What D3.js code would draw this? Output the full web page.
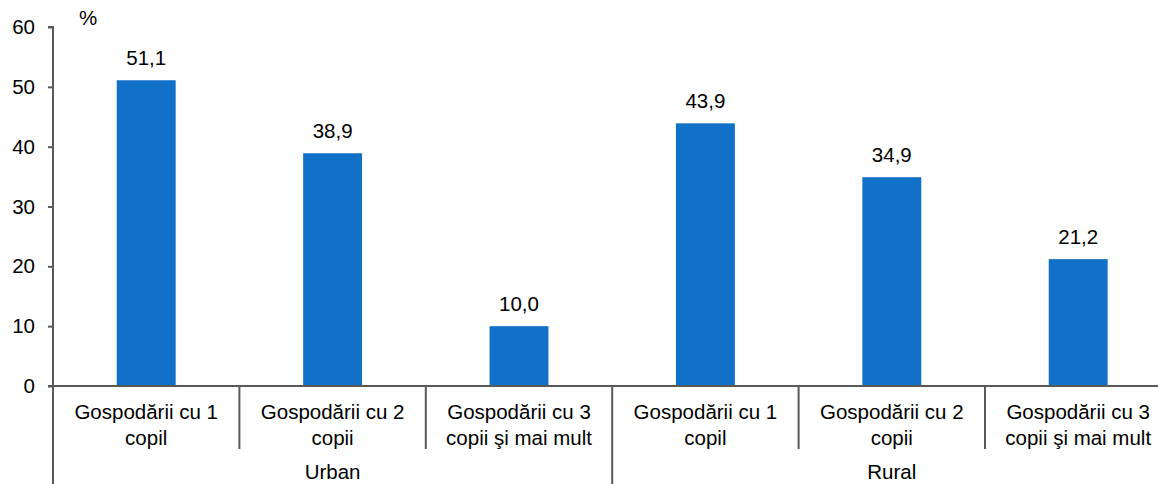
<!DOCTYPE html>
<html>
<head>
<meta charset="utf-8">
<script src="https://cdn.jsdelivr.net/npm/d3@7"></script>
<style>
  body { margin: 0; background: #fff; }
  svg text { font-family: "Liberation Sans", Arial, sans-serif; fill: #000; }
</style>
</head>
<body>
<svg id="chart" width="1158" height="484"></svg>
<script>
// data
var groups = ["Urban", "Rural"];
var categories = [
  ["Gospodării cu 1", "copil"],
  ["Gospodării cu 2", "copii"],
  ["Gospodării cu 3", "copii şi mai mult"]
];
var urbanValues = [51.1, 38.9, 10.0];
var ruralValues = [43.9, 34.9, 21.2];
var yTicks = [0, 10, 20, 30, 40, 50, 60];

var rows = [];
groups.forEach(function(g, gi) {
  var vals = gi === 0 ? urbanValues : ruralValues;
  categories.forEach(function(c, ci) {
    rows.push({ key: g + ci, group: g, label: c, value: vals[ci] });
  });
});

var svg = d3.select("#chart");
var plotLeft = 53, plotTop = 27, plotBottom = 386;
var bandW = 186.4;
var fs = "20.5px";

var x = d3.scaleBand()
  .domain(rows.map(function(d) { return d.key; }))
  .range([plotLeft, plotLeft + bandW * rows.length])
  .paddingInner(0).paddingOuter(0);

var y = d3.scaleLinear().domain([0, 60]).range([plotBottom, plotTop]);

var axisColor = "#595959";

// bars
svg.selectAll("rect.bar").data(rows).enter().append("rect")
  .attr("class", "bar")
  .attr("x", function(d) { return x(d.key) + x.bandwidth() * 0.342; })
  .attr("width", x.bandwidth() * 0.316)
  .attr("y", function(d) { return y(d.value); })
  .attr("height", function(d) { return plotBottom - y(d.value); })
  .attr("fill", "#1170c8");

// value labels
svg.selectAll("text.val").data(rows).enter().append("text")
  .attr("class", "val")
  .attr("x", function(d) { return x(d.key) + x.bandwidth() / 2; })
  .attr("y", function(d) { return y(d.value) - 15; })
  .attr("text-anchor", "middle")
  .style("font-size", fs)
  .text(function(d) { return d3.format(".1f")(d.value).replace(".", ","); });

// y axis
var yAxis = d3.axisLeft(y).tickValues(yTicks).tickSize(5).tickPadding(13);
var yg = svg.append("g").attr("transform", "translate(" + plotLeft + ",0)").call(yAxis);
yg.select(".domain").attr("stroke", axisColor).attr("stroke-width", 2).attr("d", "M-5," + plotTop + "H0V" + plotBottom);
yg.selectAll(".tick line").attr("stroke", axisColor).attr("stroke-width", 2);
yg.selectAll(".tick text").style("font-size", fs).attr("fill", "#000");

// unit
svg.append("text").attr("x", 79).attr("y", 25).style("font-size", fs).text("%");

// x axis line
svg.append("line").attr("x1", plotLeft - 5).attr("x2", 1158).attr("y1", plotBottom).attr("y2", plotBottom)
  .attr("stroke", axisColor).attr("stroke-width", 2);

// category separators (short)
svg.selectAll("line.sep").data(rows.filter(function(d, i) { return i % 3 !== 0; })).enter().append("line")
  .attr("class", "sep")
  .attr("x1", function(d) { return x(d.key); })
  .attr("x2", function(d) { return x(d.key); })
  .attr("y1", plotBottom).attr("y2", 449)
  .attr("stroke", axisColor).attr("stroke-width", 2);

// group separators (long)
var groupEdges = [0, 3, 6].map(function(i) { return plotLeft + bandW * i; });
svg.selectAll("line.gsep").data(groupEdges).enter().append("line")
  .attr("class", "gsep")
  .attr("x1", function(d) { return d; }).attr("x2", function(d) { return d; })
  .attr("y1", plotBottom).attr("y2", 484)
  .attr("stroke", axisColor).attr("stroke-width", 2);

// category labels
var cl = svg.selectAll("text.cat").data(rows).enter().append("text")
  .attr("class", "cat")
  .attr("text-anchor", "middle")
  .style("font-size", fs);
cl.append("tspan")
  .attr("x", function(d) { return x(d.key) + x.bandwidth() / 2; })
  .attr("y", 419)
  .text(function(d) { return d.label[0]; });
cl.append("tspan")
  .attr("x", function(d) { return x(d.key) + x.bandwidth() / 2; })
  .attr("y", 445)
  .text(function(d) { return d.label[1]; });

// group labels
svg.selectAll("text.grp").data(groups).enter().append("text")
  .attr("class", "grp")
  .attr("text-anchor", "middle")
  .attr("x", function(d, i) { return plotLeft + bandW * (i * 3 + 1.5); })
  .attr("y", 479)
  .style("font-size", fs)
  .text(function(d) { return d; });
</script>
</body>
</html>
